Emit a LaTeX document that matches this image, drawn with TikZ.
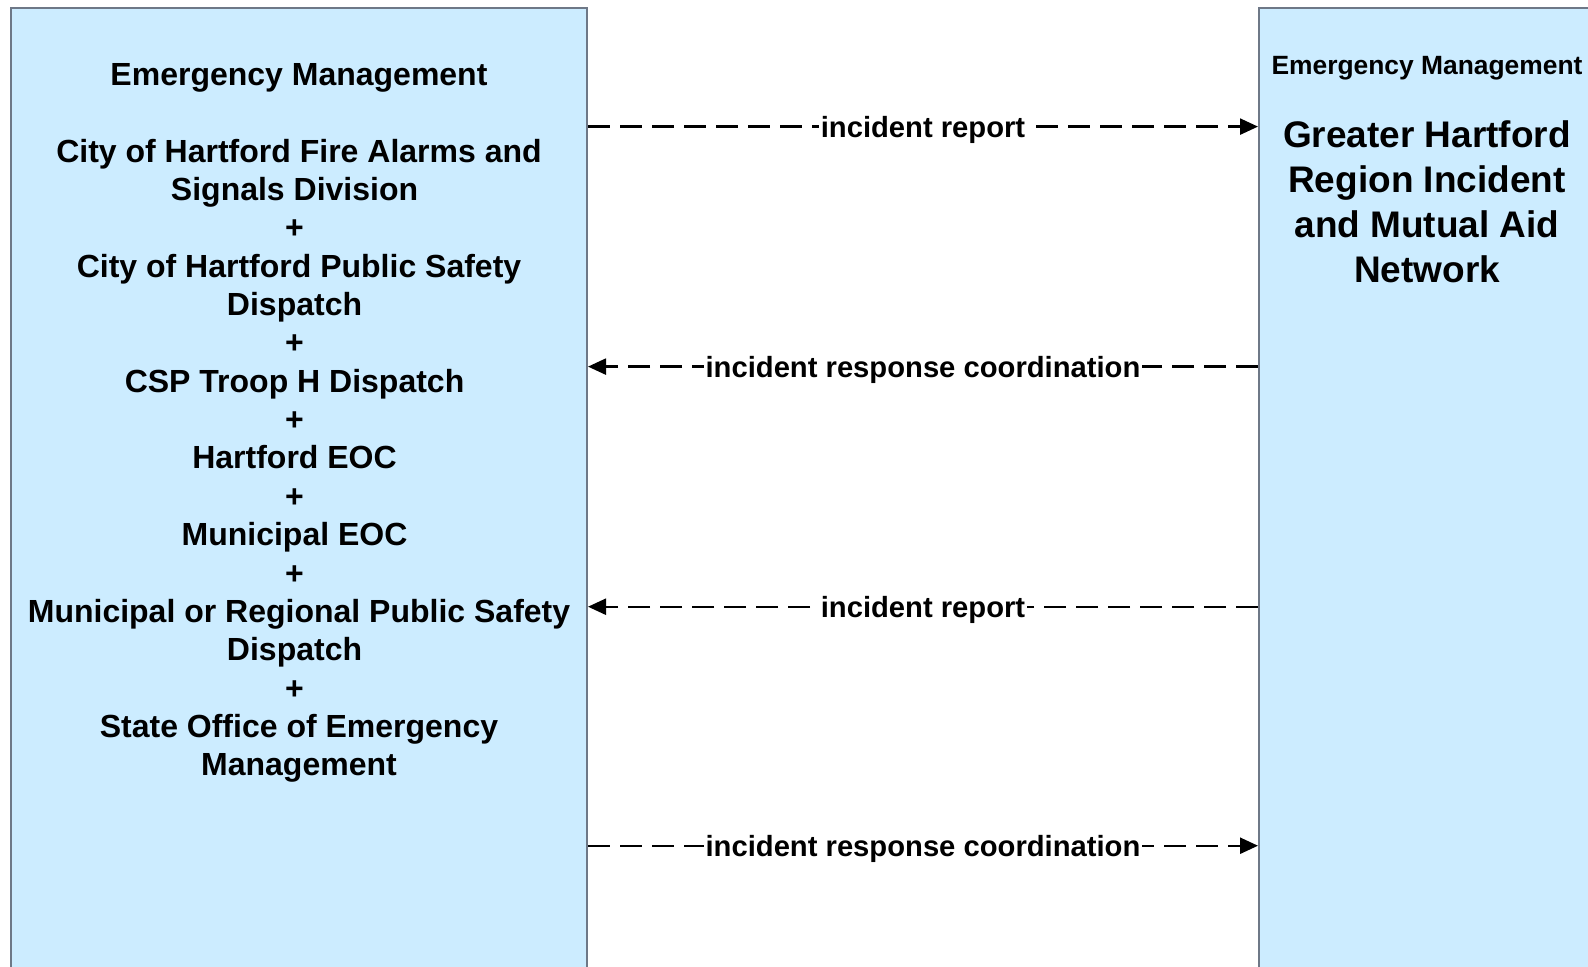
\documentclass[tikz,border=0pt]{standalone}
\usepackage{fontspec}
\setmainfont{Liberation Sans}
\usetikzlibrary{arrows.meta}
\definecolor{boxfill}{RGB}{204,236,255}
\definecolor{boxline}{RGB}{110,120,135}
\newcommand\tsp{\hbox to 0.278em{}}
\begin{document}
\begin{tikzpicture}[x=0.5pt,y=-0.5pt,
  box/.style={draw=boxline, fill=boxfill, line width=1pt, inner sep=0pt},
  lhead/.style={font=\fontsize{16pt}{19.2pt}\selectfont\bfseries, inner sep=0pt},
  ltext/.style={font=\fontsize{16pt}{19.18pt}\selectfont\bfseries, align=center, inner sep=0pt},
  rhead/.style={font=\fontsize{13.2pt}{15.8pt}\selectfont\bfseries, inner sep=0pt},
  rtext/.style={font=\fontsize{18.5pt}{22.65pt}\selectfont\bfseries, align=center, inner sep=0pt},
  flow/.style={line width=1.2pt, dash pattern=on 11pt off 5pt},
  tipr/.style={-{Triangle[length=9pt,width=8pt]}},
  elabel/.style={fill=white, inner sep=1pt, yshift=-1.5pt, font=\fontsize{14.6pt}{17.5pt}\selectfont\bfseries}
]
\clip (0,0) rectangle (1588,966);
\fill[white] (0,0) rectangle (1588,966);
\node[box, minimum width=288pt, minimum height=496pt] (L) at (299,504) {};
\node[box, minimum width=168pt, minimum height=496pt] (R) at (1427,503.5) {};

\node[lhead, anchor=base] (LH) at (299,85) {Emergency Management};
\node[ltext, anchor=base] (LT) at (299,775.8) {City of Hartford Fire Alarms and\\
Signals Division\tsp\\
+\tsp\\
City of Hartford Public Safety\\
Dispatch\tsp\\
+\tsp\\
CSP Troop H Dispatch\tsp\\
+\tsp\\
Hartford EOC\tsp\\
+\tsp\\
Municipal EOC\tsp\\
+\tsp\\
Municipal or Regional Public Safety\\
Dispatch\tsp\\
+\tsp\\
State Office of Emergency\\
Management};

\node[rhead, anchor=base] (RH) at (1427,74) {Emergency Management};
\node[rtext, anchor=base] (RT) at (1427,282.9) {Greater Hartford\\Region Incident\\and Mutual Aid\\Network};

\draw[flow, tipr] (L.east |- 0,126.6) -- node[elabel] (e1) {incident report} (R.west |- 0,126.6);
\draw[flow, tipr] (R.west |- 0,366.6) -- node[elabel] (e2) {incident response coordination} (L.east |- 0,366.6);
\draw[flow, tipr] (R.west |- 0,606.7) -- node[elabel] (e3) {incident report} (L.east |- 0,606.7);
\draw[flow, tipr] (L.east |- 0,845.7) -- node[elabel] (e4) {incident response coordination} (R.west |- 0,845.7);
\end{tikzpicture}
\end{document}
